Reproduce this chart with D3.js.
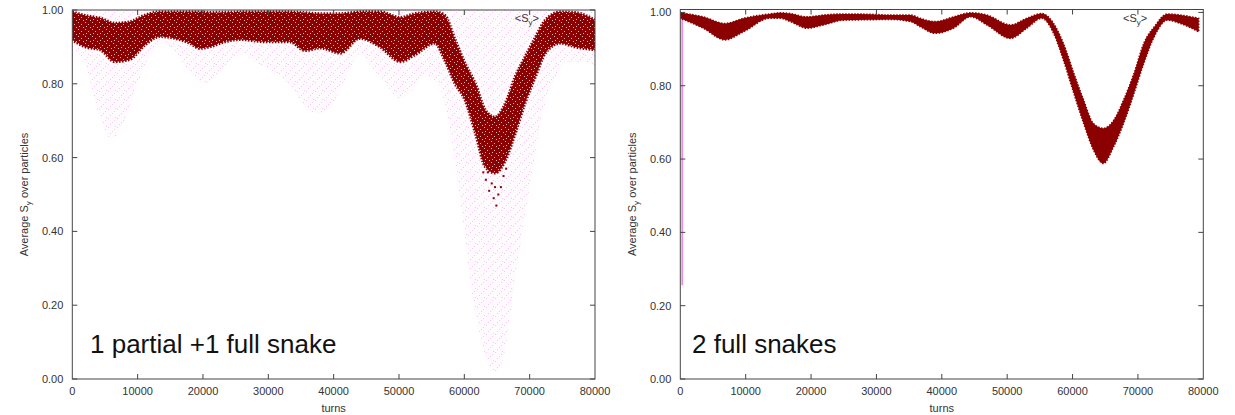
<!DOCTYPE html>
<html>
<head>
<meta charset="utf-8">
<script src="https://cdn.jsdelivr.net/npm/d3@7"></script>
<style>
  body { margin: 0; background: #fff; }
  text { font-family: "Liberation Sans", Arial, sans-serif; }
</style>
</head>
<body>
<svg id="chart" width="1235" height="415"></svg>
<script>
// axis ticks
const turnTicks = [0, 10000, 20000, 30000, 40000, 50000, 60000, 70000, 80000];
const syTicks = [0, 0.2, 0.4, 0.6, 0.8, 1.0];

// left panel: envelope of the <Sy> band
const leftTurns = [0, 2000, 4300, 6500, 8800, 11100, 13400, 15700, 18000, 19500, 21000, 23400, 25700,
  29500, 33300, 35600, 38000, 41000, 44000, 47100, 50200, 52400, 55500, 57000, 58600, 60100, 61700,
  63200, 64700, 66300, 67800, 69300, 70900, 72400, 74700, 77000, 80000];
const leftUpper = [0.995, 0.985, 0.978, 0.964, 0.968, 0.986, 0.995, 0.995, 0.995, 0.995, 0.993, 0.994, 0.995,
  0.995, 0.995, 0.993, 0.990, 0.990, 0.995, 0.995, 0.980, 0.990, 0.995, 0.986, 0.919, 0.856, 0.800,
  0.729, 0.710, 0.748, 0.820, 0.873, 0.927, 0.973, 0.995, 0.993, 0.973];
const leftLower = [0.919, 0.900, 0.892, 0.860, 0.866, 0.905, 0.928, 0.923, 0.910, 0.896, 0.900, 0.914, 0.920,
  0.914, 0.914, 0.890, 0.897, 0.883, 0.923, 0.900, 0.860, 0.878, 0.910, 0.864, 0.800, 0.756, 0.666,
  0.575, 0.558, 0.593, 0.666, 0.748, 0.820, 0.883, 0.910, 0.900, 0.892];

// left panel: lower edge of the faint per-particle cloud
const cloudTurns = [0, 2000, 4000, 6000, 8000, 10000, 12000, 14000, 16000, 18000, 20000, 22000, 24000,
  26000, 28000, 30000, 32000, 34000, 36000, 38000, 40000, 42000, 44000, 46000, 48000, 50000, 52000,
  54000, 56000, 58000, 60000, 61000, 62000, 64000, 65000, 66000, 68000, 70000, 72000, 74000, 76000,
  78000, 80000];
const cloudLow = [0.90, 0.85, 0.72, 0.65, 0.70, 0.80, 0.88, 0.91, 0.88, 0.83, 0.80, 0.82, 0.86,
  0.88, 0.86, 0.84, 0.82, 0.78, 0.73, 0.72, 0.75, 0.82, 0.88, 0.84, 0.80, 0.76, 0.78,
  0.82, 0.80, 0.65, 0.40, 0.25, 0.15, 0.03, 0.02, 0.06, 0.30, 0.52, 0.72, 0.82, 0.86,
  0.86, 0.85];

// left panel: stray points under the dip
const outlierTurns = [63300, 63800, 64200, 64500, 64900, 65200, 65600, 66000, 63600, 64700, 62900, 66400];
const outlierValues = [0.54, 0.51, 0.53, 0.49, 0.47, 0.50, 0.52, 0.55, 0.56, 0.52, 0.56, 0.57];

// right panel: envelope of the <Sy> band
const rightTurns = [0, 3500, 6850, 9650, 13700, 15300, 16800, 19400, 21900, 25000, 29000, 32100, 35200,
  36700, 39000, 41800, 44400, 46900, 50500, 53000, 55300, 57100, 58600, 60200, 61700, 63200, 64700,
  66300, 67800, 69400, 70900, 72500, 74500, 76500, 79300];
const rightUpper = [0.999, 0.988, 0.970, 0.984, 0.996, 0.999, 0.997, 0.988, 0.993, 0.996, 0.995, 0.993, 0.993,
  0.984, 0.975, 0.988, 0.999, 0.993, 0.966, 0.984, 0.997, 0.970, 0.916, 0.834, 0.761, 0.697, 0.684,
  0.706, 0.761, 0.834, 0.916, 0.961, 0.996, 0.993, 0.984];
const rightLower = [0.984, 0.957, 0.925, 0.947, 0.984, 0.984, 0.975, 0.957, 0.966, 0.979, 0.980, 0.981, 0.975,
  0.961, 0.943, 0.957, 0.988, 0.966, 0.929, 0.957, 0.984, 0.943, 0.870, 0.779, 0.697, 0.625, 0.588,
  0.634, 0.697, 0.779, 0.861, 0.934, 0.979, 0.970, 0.947];

// right panel: early transient at the first turns
const spikeTurns = [300, 300];
const spikeValues = [0.256, 1.0];

const svg = d3.select('#chart');
svg.append('rect').attr('width', 1235).attr('height', 415).attr('fill', '#fff');

const defs = svg.append('defs');
const pink = defs.append('pattern')
  .attr('id', 'pinkDots')
  .attr('patternUnits', 'userSpaceOnUse')
  .attr('width', 9).attr('height', 9);
pink.append('rect').attr('width', 9).attr('height', 9).attr('fill', '#fefafe');
[[0, 1], [4, 5], [7, 0], [2, 7], [6, 3]].forEach(([x, y]) => {
  pink.append('rect').attr('x', x).attr('y', y).attr('width', 1).attr('height', 1).attr('fill', '#f4caf1');
});

const speckle = defs.append('pattern')
  .attr('id', 'speckle')
  .attr('patternUnits', 'userSpaceOnUse')
  .attr('width', 7).attr('height', 7);
[[1, 1], [4, 3], [2, 5], [6, 6]].forEach(([x, y]) => {
  speckle.append('rect').attr('x', x).attr('y', y).attr('width', 1).attr('height', 1)
    .attr('fill', '#fff').attr('opacity', 0.7);
});

const DARK_RED = '#8b0000';
const AXIS = '#444';

function drawPanel(p) {
  const x = d3.scaleLinear().domain([0, 80000]).range([p.left, p.right]);
  const y = d3.scaleLinear().domain([0, p.yMax]).range([p.bottom, p.top]);
  const g = svg.append('g');

  g.append('defs').append('clipPath').attr('id', `clip-${p.id}`)
    .append('rect').attr('x', p.left).attr('y', p.top)
    .attr('width', p.right - p.left).attr('height', p.bottom - p.top);
  const plot = g.append('g').attr('clip-path', `url(#clip-${p.id})`);

  if (p.cloud) {
    const cloud = d3.area()
      .x(d => x(d[0])).y0(d => y(d[1])).y1(y(1.0))
      .curve(d3.curveMonotoneX);
    plot.append('path')
      .datum(p.cloud.turns.map((t, i) => [t, p.cloud.low[i]]))
      .attr('d', cloud)
      .attr('fill', 'url(#pinkDots)');
  }

  if (p.spike) {
    plot.append('line')
      .attr('x1', x(p.spike.turns[0])).attr('x2', x(p.spike.turns[1]))
      .attr('y1', y(p.spike.values[0])).attr('y2', y(p.spike.values[1]))
      .attr('stroke', '#e88ee6').attr('stroke-width', 1.8);
  }

  const band = d3.area()
    .x(d => x(d[0])).y0(d => y(d[2])).y1(d => y(d[1]))
    .curve(d3.curveMonotoneX);
  const bandData = p.band.turns.map((t, i) => [t, p.band.upper[i], p.band.lower[i]]);
  plot.append('path').datum(bandData).attr('d', band)
    .attr('fill', DARK_RED);
  // ragged dotted fringe along the band edge
  plot.append('path').datum(bandData).attr('d', band)
    .attr('fill', 'none')
    .attr('stroke', DARK_RED).attr('stroke-width', p.fringe)
    .attr('stroke-dasharray', '1.5,1.5');
  if (p.speckle) {
    plot.append('path').datum(bandData).attr('d', band).attr('fill', 'url(#speckle)');
  }

  if (p.outliers) {
    plot.selectAll('rect.outlier')
      .data(p.outliers.turns.map((t, i) => [t, p.outliers.values[i]]))
      .join('rect')
      .attr('class', 'outlier')
      .attr('x', d => x(d[0]) - 1).attr('y', d => y(d[1]) - 1)
      .attr('width', 2).attr('height', 2)
      .attr('fill', DARK_RED);
  }

  // border with mirrored inward ticks (gnuplot style)
  g.append('rect')
    .attr('x', p.left).attr('y', p.top)
    .attr('width', p.right - p.left).attr('height', p.bottom - p.top)
    .attr('fill', 'none').attr('stroke', AXIS).attr('stroke-width', 1);

  const ticks = g.append('g').attr('stroke', AXIS).attr('stroke-width', 1);
  turnTicks.slice(1, -1).forEach(t => {
    ticks.append('line').attr('x1', x(t)).attr('x2', x(t)).attr('y1', p.bottom).attr('y2', p.bottom - 5);
    ticks.append('line').attr('x1', x(t)).attr('x2', x(t)).attr('y1', p.top).attr('y2', p.top + 5);
  });
  syTicks.forEach(v => {
    ticks.append('line').attr('x1', p.left).attr('x2', p.left + 5).attr('y1', y(v)).attr('y2', y(v));
    ticks.append('line').attr('x1', p.right).attr('x2', p.right - 5).attr('y1', y(v)).attr('y2', y(v));
  });

  g.selectAll('text.xtick')
    .data(turnTicks)
    .join('text')
    .attr('class', 'xtick')
    .attr('x', d => x(d)).attr('y', p.bottom + 16)
    .attr('text-anchor', 'middle')
    .attr('font-size', 11).attr('fill', '#333')
    .text(d => d);

  g.selectAll('text.ytick')
    .data(syTicks)
    .join('text')
    .attr('class', 'ytick')
    .attr('x', p.left - 9).attr('y', d => y(d) + 4)
    .attr('text-anchor', 'end')
    .attr('font-size', 11).attr('fill', '#333')
    .text(d => d3.format('.2f')(d));

  g.append('text')
    .attr('x', (p.left + p.right) / 2).attr('y', 412)
    .attr('text-anchor', 'middle')
    .attr('font-size', 11).attr('fill', '#333')
    .text('turns');

  const yl = g.append('text')
    .attr('transform', `translate(${p.left - 44},${(p.top + p.bottom) / 2}) rotate(-90)`)
    .attr('text-anchor', 'middle')
    .attr('font-size', 11).attr('fill', '#333');
  yl.append('tspan').text('Average S');
  yl.append('tspan').attr('font-size', 8).attr('dy', 3).text('y');
  yl.append('tspan').attr('dy', -3).text(' over particles');

  const key = g.append('text')
    .attr('x', p.right - 56).attr('y', 22)
    .attr('text-anchor', 'end')
    .attr('font-size', 11).attr('fill', '#333');
  key.append('tspan').text('<S');
  key.append('tspan').attr('font-size', 8).attr('dy', 3).text('y');
  key.append('tspan').attr('dy', -3).text('>');

  g.append('text')
    .attr('x', p.titleX).attr('y', 353)
    .attr('font-size', 26).attr('fill', '#111')
    .text(p.title);
}

drawPanel({
  id: 'left', left: 72.3, right: 595, top: 10, bottom: 379, yMax: 1.0,
  title: '1 partial +1 full snake', titleX: 90,
  band: { turns: leftTurns, upper: leftUpper, lower: leftLower },
  cloud: { turns: cloudTurns, low: cloudLow },
  outliers: { turns: outlierTurns, values: outlierValues },
  speckle: true, fringe: 3
});

drawPanel({
  id: 'right', left: 680.3, right: 1203.3, top: 9.5, bottom: 379, yMax: 1.008,
  title: '2 full snakes', titleX: 692,
  band: { turns: rightTurns, upper: rightUpper, lower: rightLower },
  spike: { turns: spikeTurns, values: spikeValues },
  speckle: false, fringe: 1.5
});
</script>
</body>
</html>
